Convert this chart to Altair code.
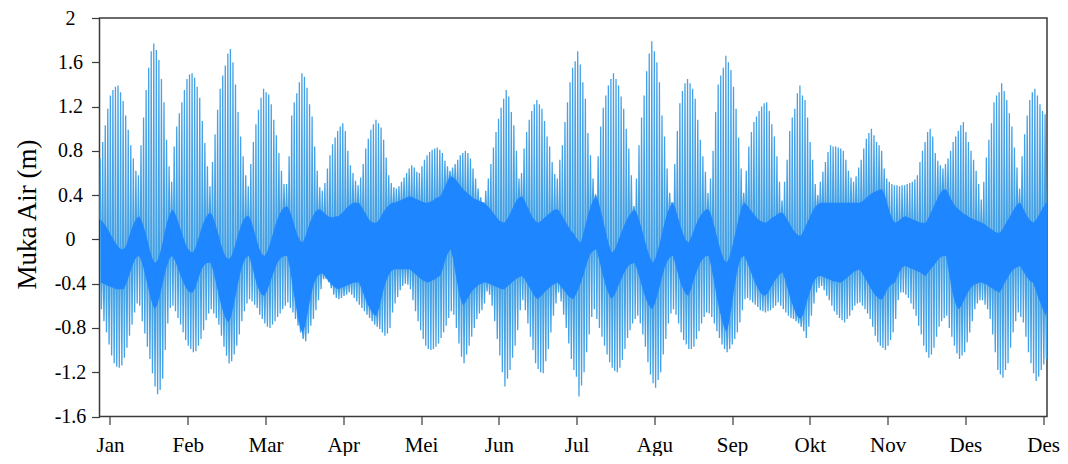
import json
import altair as alt
import pandas as pd

MONTHS = ["Jan", "Feb", "Mar", "Apr", "Mei", "Jun", "Jul", "Agu", "Sep", "Okt", "Nov", "Des", "Des"]
MONTH_TICKS = [4.1, 34.55, 65.0, 95.45, 125.9, 156.35, 186.8, 217.25, 247.7, 278.15, 308.6, 339.05, 369.5]
Y_TICKS = [-1.6, -1.2, -0.8, -0.4, 0, 0.4, 0.8, 1.2, 1.6, 2]

# daily higher-high water (m)
HH = [
    0.73, 0.88, 1.03, 1.18, 1.30, 1.35, 1.38, 1.39, 1.33, 1.25,
    1.12, 0.99, 0.85, 0.73, 0.62, 0.58, 0.85, 1.10, 1.35, 1.55,
    1.70, 1.77, 1.71, 1.62, 1.45, 1.24, 0.90, 0.66, 0.52, 0.84,
    1.02, 1.14, 1.24, 1.35, 1.45, 1.49, 1.50, 1.46, 1.38, 1.28,
    1.07, 0.87, 0.66, 0.48, 0.70, 0.95, 1.17, 1.36, 1.48, 1.57,
    1.68, 1.72, 1.60, 1.40, 1.15, 0.93, 0.75, 0.58, 0.48, 0.68,
    0.88, 1.04, 1.17, 1.28, 1.36, 1.33, 1.31, 1.22, 1.08, 0.94,
    0.78, 0.62, 0.50, 0.50, 0.75, 1.12, 1.24, 1.32, 1.42, 1.50,
    1.47, 1.37, 1.22, 1.11, 0.84, 0.62, 0.47, 0.44, 0.51, 0.64,
    0.76, 0.86, 0.92, 0.98, 1.02, 1.05, 0.98, 0.80, 0.67, 0.60,
    0.53, 0.49, 0.56, 0.68, 0.82, 0.91, 0.99, 1.04, 1.08, 1.05,
    1.01, 0.90, 0.74, 0.58, 0.51, 0.47, 0.46, 0.48, 0.52, 0.56,
    0.60, 0.64, 0.67, 0.65, 0.61, 0.60, 0.66, 0.72, 0.76, 0.79,
    0.81, 0.82, 0.83, 0.81, 0.78, 0.71, 0.66, 0.62, 0.65, 0.68,
    0.72, 0.76, 0.78, 0.80, 0.78, 0.73, 0.64, 0.55, 0.46, 0.38,
    0.33, 0.44, 0.55, 0.68, 0.83, 0.97, 1.09, 1.19, 1.27, 1.35,
    1.29, 1.15, 1.03, 0.80, 0.55, 0.60, 0.82, 0.97, 1.08, 1.16,
    1.22, 1.26, 1.22, 1.18, 1.07, 0.93, 0.84, 0.70, 0.59, 0.55,
    0.72, 0.85, 1.06, 1.24, 1.42, 1.55, 1.61, 1.70, 1.58, 1.42,
    1.27, 0.96, 0.76, 0.55, 0.40, 0.75, 1.02, 1.19, 1.30, 1.39,
    1.45, 1.50, 1.45, 1.39, 1.29, 1.18, 1.00, 0.82, 0.58, 0.30,
    0.55, 0.85, 1.10, 1.30, 1.52, 1.68, 1.79, 1.70, 1.60, 1.42,
    1.12, 0.93, 0.64, 0.42, 0.33, 0.68, 0.98, 1.23, 1.34, 1.41,
    1.45, 1.41, 1.36, 1.27, 1.08, 0.90, 0.75, 0.61, 0.42, 0.55,
    0.80, 1.15, 1.40, 1.48, 1.55, 1.66, 1.60, 1.53, 1.38, 1.18,
    0.92, 0.64, 0.42, 0.62, 0.84, 0.97, 1.06, 1.11, 1.16, 1.20,
    1.23, 1.24, 1.16, 1.04, 0.93, 0.75, 0.52, 0.35, 0.52, 0.72,
    0.98, 1.10, 1.18, 1.32, 1.39, 1.30, 1.26, 1.10, 0.88, 0.72,
    0.50, 0.40, 0.52, 0.61, 0.70, 0.79, 0.85, 0.84, 0.84, 0.83,
    0.82, 0.80, 0.72, 0.62, 0.56, 0.52, 0.57, 0.65, 0.72, 0.82,
    0.91, 0.96, 1.00, 0.94, 0.88, 0.85, 0.80, 0.64, 0.55, 0.52,
    0.50, 0.49, 0.49, 0.48, 0.49, 0.49, 0.50, 0.51, 0.52, 0.54,
    0.58, 0.70, 0.80, 0.88, 0.97, 1.00, 0.93, 0.78, 0.71, 0.67,
    0.64, 0.68, 0.73, 0.80, 0.88, 0.93, 0.98, 1.03, 1.06, 0.97,
    0.88, 0.80, 0.72, 0.62, 0.50, 0.36, 0.52, 0.74, 0.90, 1.05,
    1.24, 1.30, 1.33, 1.41, 1.34, 1.26, 1.14, 1.02, 0.83, 0.65,
    0.46, 0.75, 0.95, 1.12, 1.26, 1.33, 1.36, 1.30, 1.22, 1.16,
    1.13, 0.95,
]

# daily lower-low water (m)
LL = [
    -0.63, -0.74, -0.84, -0.95, -1.05, -1.12, -1.15, -1.16, -1.14, -1.07,
    -0.98, -0.87, -0.77, -0.66, -0.58, -0.60, -0.74, -0.85, -0.97, -1.08,
    -1.21, -1.33, -1.40, -1.36, -1.26, -1.00, -0.76, -0.62, -0.60, -0.65,
    -0.71, -0.77, -0.84, -0.91, -0.96, -0.99, -1.02, -1.01, -0.96, -0.90,
    -0.82, -0.73, -0.67, -0.63, -0.67, -0.71, -0.77, -0.87, -0.97, -1.05,
    -1.12, -1.10, -1.04, -0.96, -0.86, -0.74, -0.65, -0.58, -0.54, -0.56,
    -0.59, -0.62, -0.68, -0.72, -0.76, -0.79, -0.80, -0.77, -0.74, -0.70,
    -0.67, -0.63, -0.60, -0.57, -0.62, -0.66, -0.72, -0.78, -0.84, -0.90,
    -0.92, -0.85, -0.78, -0.72, -0.64, -0.55, -0.45, -0.36, -0.35, -0.38,
    -0.44, -0.50, -0.53, -0.54, -0.53, -0.51, -0.50, -0.48, -0.50, -0.53,
    -0.56, -0.59, -0.62, -0.65, -0.68, -0.71, -0.74, -0.77, -0.79, -0.81,
    -0.84, -0.87, -0.85, -0.80, -0.66, -0.58, -0.52, -0.46, -0.42, -0.40,
    -0.41, -0.45, -0.55, -0.65, -0.74, -0.82, -0.90, -0.96, -0.99, -1.00,
    -0.99, -0.97, -0.94, -0.89, -0.84, -0.78, -0.71, -0.65, -0.68, -0.80,
    -0.94, -1.06, -1.12, -1.04, -0.96, -0.88, -0.80, -0.72, -0.67, -0.64,
    -0.58, -0.47, -0.50, -0.60, -0.74, -0.90, -1.05, -1.20, -1.33, -1.26,
    -1.18, -1.07, -0.96, -0.82, -0.64, -0.55, -0.64, -0.76, -0.88, -1.00,
    -1.12, -1.17, -1.20, -1.21, -1.10, -0.99, -0.84, -0.69, -0.58, -0.48,
    -0.56, -0.68, -0.80, -0.94, -1.08, -1.18, -1.24, -1.42, -1.32, -1.20,
    -1.02, -0.86, -0.70, -0.63, -0.72, -0.80, -0.88, -0.96, -1.04, -1.11,
    -1.16, -1.19, -1.20, -1.16, -1.09, -0.99, -0.89, -0.82, -0.76, -0.72,
    -0.69, -0.76, -0.86, -0.97, -1.11, -1.22, -1.30, -1.34, -1.27, -1.20,
    -1.04, -0.90, -0.76, -0.67, -0.63, -0.68, -0.76, -0.84, -0.91, -0.95,
    -0.99, -0.99, -0.97, -0.90, -0.83, -0.76, -0.70, -0.66, -0.67, -0.70,
    -0.76, -0.83, -0.89, -0.95, -0.99, -1.02, -0.99, -0.95, -0.90, -0.84,
    -0.75, -0.64, -0.54, -0.53, -0.55, -0.57, -0.59, -0.61, -0.64, -0.65,
    -0.66, -0.65, -0.64, -0.62, -0.60, -0.57, -0.60, -0.63, -0.66, -0.69,
    -0.71, -0.72, -0.74, -0.76, -0.79, -0.83, -0.89, -0.79, -0.69, -0.58,
    -0.48, -0.44, -0.42, -0.46, -0.51, -0.55, -0.60, -0.65, -0.68, -0.71,
    -0.73, -0.75, -0.72, -0.69, -0.64, -0.60, -0.58, -0.57, -0.60, -0.63,
    -0.67, -0.72, -0.79, -0.87, -0.93, -0.96, -0.98, -1.00, -0.96, -0.91,
    -0.84, -0.72, -0.55, -0.48, -0.48, -0.50, -0.53, -0.58, -0.63, -0.69,
    -0.78, -0.86, -0.96, -1.02, -1.07, -1.04, -0.98, -0.88, -0.79, -0.74,
    -0.71, -0.69, -0.80, -0.88, -0.96, -1.03, -1.08, -1.05, -1.02, -0.93,
    -0.84, -0.74, -0.63, -0.58, -0.55, -0.55, -0.59, -0.63, -0.72, -0.86,
    -1.02, -1.18, -1.22, -1.25, -1.18, -1.12, -0.98, -0.84, -0.74, -0.66,
    -0.70, -0.75, -0.88, -1.02, -1.12, -1.21, -1.28, -1.24, -1.18, -1.13,
    -1.08, -0.84,
]

# upper edge of the dense mid-level band (m)
BU = [
    0.18, 0.15, 0.12, 0.08, 0.04, 0.00, -0.04, -0.07, -0.09, -0.09,
    -0.05, 0.02, 0.09, 0.15, 0.19, 0.21, 0.17, 0.10, 0.02, -0.08,
    -0.16, -0.21, -0.20, -0.14, -0.05, 0.06, 0.16, 0.23, 0.27, 0.24,
    0.18, 0.11, 0.04, -0.03, -0.08, -0.11, -0.12, -0.08, -0.01, 0.07,
    0.14, 0.19, 0.23, 0.24, 0.20, 0.13, 0.05, -0.04, -0.11, -0.16,
    -0.18, -0.16, -0.10, -0.02, 0.06, 0.13, 0.18, 0.21, 0.21, 0.16,
    0.08, 0.00, -0.08, -0.13, -0.15, -0.12, -0.06, 0.02, 0.10, 0.17,
    0.23, 0.27, 0.29, 0.30, 0.26, 0.19, 0.11, 0.04, -0.01, -0.03,
    0.02, 0.09, 0.16, 0.21, 0.25, 0.27, 0.27, 0.25, 0.23, 0.21,
    0.20, 0.20, 0.21, 0.21, 0.23, 0.25, 0.28, 0.30, 0.32, 0.33,
    0.33, 0.33, 0.30, 0.26, 0.22, 0.18, 0.16, 0.15, 0.15, 0.18,
    0.22, 0.26, 0.29, 0.31, 0.33, 0.33, 0.34, 0.35, 0.36, 0.37,
    0.38, 0.39, 0.38, 0.37, 0.36, 0.35, 0.34, 0.33, 0.33, 0.34,
    0.35, 0.37, 0.38, 0.39, 0.44, 0.49, 0.54, 0.57, 0.56, 0.54,
    0.51, 0.48, 0.45, 0.43, 0.41, 0.39, 0.37, 0.36, 0.35, 0.34,
    0.33, 0.31, 0.29, 0.26, 0.23, 0.20, 0.17, 0.16, 0.15, 0.18,
    0.22, 0.27, 0.32, 0.36, 0.38, 0.39, 0.35, 0.30, 0.25, 0.20,
    0.17, 0.15, 0.16, 0.18, 0.20, 0.22, 0.24, 0.26, 0.27, 0.27,
    0.24, 0.20, 0.16, 0.12, 0.08, 0.06, 0.02, -0.01, -0.03, 0.06,
    0.15, 0.24, 0.31, 0.36, 0.39, 0.33, 0.24, 0.14, 0.04, -0.05,
    -0.12, -0.10, -0.05, 0.01, 0.07, 0.13, 0.18, 0.22, 0.25, 0.27,
    0.23, 0.16, 0.08, -0.01, -0.09, -0.16, -0.21, -0.18, -0.11, -0.02,
    0.08, 0.17, 0.25, 0.30, 0.33, 0.28, 0.20, 0.12, 0.05, 0.00,
    -0.03, 0.01, 0.07, 0.13, 0.18, 0.22, 0.25, 0.27, 0.27, 0.22,
    0.14, 0.05, -0.04, -0.12, -0.18, -0.21, -0.17, -0.09, 0.01, 0.11,
    0.21, 0.30, 0.33, 0.31, 0.28, 0.25, 0.22, 0.19, 0.17, 0.16,
    0.15, 0.16, 0.18, 0.20, 0.21, 0.23, 0.24, 0.24, 0.21, 0.17,
    0.13, 0.09, 0.06, 0.04, 0.03, 0.07, 0.12, 0.17, 0.22, 0.27,
    0.30, 0.32, 0.33, 0.33, 0.33, 0.33, 0.33, 0.33, 0.33, 0.33,
    0.33, 0.33, 0.33, 0.33, 0.33, 0.33, 0.33, 0.33, 0.34, 0.36,
    0.38, 0.40, 0.42, 0.43, 0.44, 0.45, 0.45, 0.40, 0.32, 0.24,
    0.18, 0.15, 0.16, 0.18, 0.20, 0.21, 0.20, 0.19, 0.18, 0.17,
    0.16, 0.15, 0.15, 0.15, 0.19, 0.24, 0.29, 0.34, 0.39, 0.43,
    0.45, 0.45, 0.41, 0.36, 0.32, 0.29, 0.27, 0.25, 0.23, 0.22,
    0.20, 0.19, 0.18, 0.17, 0.16, 0.15, 0.14, 0.12, 0.10, 0.09,
    0.07, 0.06, 0.06, 0.09, 0.13, 0.17, 0.21, 0.25, 0.29, 0.32,
    0.33, 0.29, 0.24, 0.20, 0.17, 0.15, 0.17, 0.21, 0.25, 0.29,
    0.33, 0.33,
]

# lower edge of the dense mid-level band (m)
BL = [
    -0.39, -0.40, -0.41, -0.42, -0.43, -0.44, -0.45, -0.45, -0.45, -0.45,
    -0.40, -0.33, -0.26, -0.20, -0.16, -0.15, -0.20, -0.28, -0.38, -0.48,
    -0.57, -0.63, -0.60, -0.52, -0.42, -0.32, -0.23, -0.17, -0.15, -0.19,
    -0.25, -0.31, -0.37, -0.42, -0.46, -0.48, -0.48, -0.44, -0.37, -0.30,
    -0.25, -0.22, -0.21, -0.21, -0.28, -0.38, -0.48, -0.58, -0.66, -0.72,
    -0.75, -0.70, -0.60, -0.48, -0.37, -0.27, -0.20, -0.16, -0.15, -0.22,
    -0.31, -0.40, -0.46, -0.50, -0.51, -0.47, -0.41, -0.34, -0.28, -0.22,
    -0.18, -0.16, -0.15, -0.15, -0.25, -0.40, -0.55, -0.68, -0.79, -0.85,
    -0.78, -0.66, -0.54, -0.44, -0.37, -0.33, -0.31, -0.31, -0.34, -0.37,
    -0.40, -0.42, -0.44, -0.45, -0.44, -0.43, -0.42, -0.41, -0.40, -0.39,
    -0.39, -0.39, -0.44, -0.50, -0.56, -0.61, -0.65, -0.68, -0.69, -0.62,
    -0.52, -0.43, -0.36, -0.31, -0.28, -0.27, -0.27, -0.27, -0.27, -0.27,
    -0.27, -0.27, -0.29, -0.31, -0.33, -0.35, -0.37, -0.38, -0.39, -0.38,
    -0.37, -0.36, -0.34, -0.33, -0.26, -0.18, -0.12, -0.09, -0.18, -0.32,
    -0.45, -0.55, -0.60, -0.56, -0.52, -0.48, -0.45, -0.43, -0.41, -0.40,
    -0.39, -0.39, -0.40, -0.41, -0.42, -0.43, -0.44, -0.45, -0.45, -0.43,
    -0.41, -0.39, -0.37, -0.35, -0.34, -0.33, -0.36, -0.40, -0.44, -0.48,
    -0.52, -0.54, -0.52, -0.50, -0.47, -0.45, -0.43, -0.41, -0.40, -0.39,
    -0.42, -0.45, -0.48, -0.51, -0.53, -0.54, -0.50, -0.45, -0.39, -0.32,
    -0.24, -0.17, -0.12, -0.10, -0.09, -0.17, -0.27, -0.36, -0.44, -0.50,
    -0.54, -0.51, -0.46, -0.40, -0.35, -0.30, -0.26, -0.23, -0.22, -0.21,
    -0.27, -0.35, -0.43, -0.51, -0.57, -0.61, -0.63, -0.58, -0.50, -0.41,
    -0.32, -0.24, -0.19, -0.16, -0.15, -0.22, -0.31, -0.39, -0.45, -0.49,
    -0.51, -0.46, -0.38, -0.31, -0.25, -0.20, -0.17, -0.15, -0.15, -0.24,
    -0.36, -0.49, -0.61, -0.71, -0.79, -0.84, -0.75, -0.60, -0.45, -0.31,
    -0.21, -0.16, -0.15, -0.20, -0.26, -0.32, -0.38, -0.43, -0.47, -0.50,
    -0.51, -0.49, -0.45, -0.41, -0.37, -0.34, -0.31, -0.30, -0.37, -0.45,
    -0.53, -0.60, -0.66, -0.70, -0.72, -0.68, -0.60, -0.52, -0.45, -0.39,
    -0.35, -0.33, -0.33, -0.34, -0.35, -0.36, -0.37, -0.38, -0.38, -0.39,
    -0.39, -0.37, -0.35, -0.33, -0.31, -0.29, -0.28, -0.27, -0.30, -0.34,
    -0.38, -0.42, -0.46, -0.50, -0.52, -0.54, -0.54, -0.50, -0.45, -0.42,
    -0.40, -0.39, -0.33, -0.28, -0.25, -0.24, -0.25, -0.26, -0.27, -0.28,
    -0.29, -0.30, -0.32, -0.33, -0.30, -0.27, -0.24, -0.21, -0.18, -0.16,
    -0.15, -0.15, -0.28, -0.42, -0.53, -0.60, -0.63, -0.60, -0.55, -0.50,
    -0.46, -0.43, -0.41, -0.40, -0.39, -0.39, -0.40, -0.41, -0.43, -0.44,
    -0.46, -0.47, -0.48, -0.44, -0.39, -0.35, -0.31, -0.28, -0.26, -0.25,
    -0.24, -0.28, -0.32, -0.35, -0.38, -0.39, -0.45, -0.52, -0.58, -0.64,
    -0.69, -0.60,
]

# ---- tables built from the arrays ----
wave_rows = []
band_rows = []
for d in range(len(HH)):
    wave_rows += [
        {"t": d + 0.05, "h": BU[d]},
        {"t": d + 0.25, "h": HH[d]},
        {"t": d + 0.45, "h": BU[d]},
        {"t": d + 0.55, "h": BL[d]},
        {"t": d + 0.75, "h": LL[d]},
        {"t": d + 0.95, "h": BL[d]},
    ]
    band_rows.append({"t": d + 0.5, "lo": BL[d], "hi": BU[d]})
wave = pd.DataFrame(wave_rows)
band = pd.DataFrame(band_rows)

FONT = "Liberation Serif"
BAND_BLUE = "#1e86ff"
LINE_BLUE = "#45a2e6"
AXIS_COLOR = "#3a3a3a"

step = MONTH_TICKS[1] - MONTH_TICKS[0]
x_label_expr = f"{json.dumps(MONTHS)}[round((datum.value - {MONTH_TICKS[0]}) / {step})]"

x_scale = alt.Scale(domain=[0, 371], nice=False, zero=False)
y_scale = alt.Scale(domain=[-1.6, 2], nice=False, zero=False)

x_axis = alt.Axis(
    values=MONTH_TICKS, labelExpr=x_label_expr, title=None, grid=False,
    domain=False, tickSize=8, tickColor=AXIS_COLOR, tickWidth=1.2,
    labelFont=FONT, labelFontSize=21, labelColor="black", labelPadding=10,
    labelFlush=False, labelOverlap=False,
)
y_axis = alt.Axis(
    values=Y_TICKS, labelExpr="'' + datum.value", title="Muka Air (m)",
    grid=False, domain=False, tickSize=8, tickColor=AXIS_COLOR, tickWidth=1.2,
    labelFont=FONT, labelFontSize=20, labelColor="black", labelAlign="center",
    labelBaseline="middle", labelPadding=21.5, labelFlush=False, labelOverlap=False,
    titleFont=FONT, titleFontSize=27, titleFontWeight="normal", titleColor="black",
    titleX=-72, titleY=196, titleBaseline="middle", titleAlign="center",
)

band_layer = alt.Chart(band).mark_area(color=BAND_BLUE, opacity=1, clip=True).encode(
    x=alt.X("t:Q", scale=x_scale, axis=x_axis),
    y=alt.Y("lo:Q", scale=y_scale, axis=y_axis),
    y2="hi:Q",
)

wave_layer = alt.Chart(wave).mark_line(color=LINE_BLUE, strokeWidth=1.3, clip=True).encode(
    x=alt.X("t:Q", scale=x_scale),
    y=alt.Y("h:Q", scale=y_scale),
)

chart = (
    alt.layer(wave_layer, band_layer)
    .properties(
        width=947.5, height=398.5,
        autosize=alt.AutoSizeParams(type="none"),
        padding={"left": 91.5, "top": 10, "right": 13, "bottom": 39},
        background="white",
    )
    .configure_view(stroke=AXIS_COLOR, strokeWidth=1.5)
)

chart.save("out.html", embed_options={"renderer": "svg", "actions": False})
